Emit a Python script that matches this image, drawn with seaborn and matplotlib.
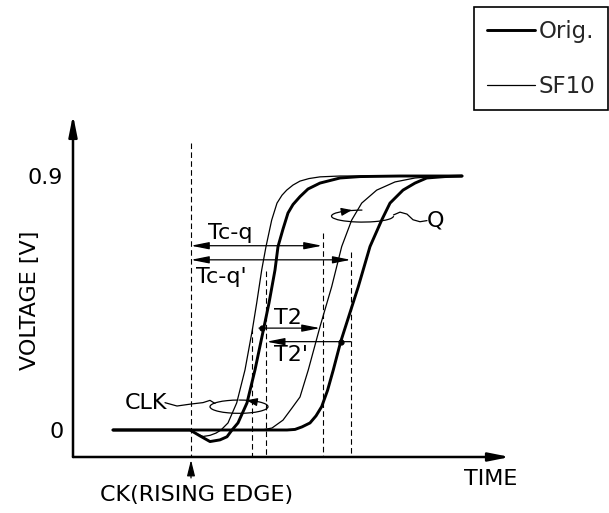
import numpy as np
import pandas as pd
import matplotlib.pyplot as plt
from matplotlib.patches import Arc
import seaborn as sns

# Waveforms (time in arbitrary units, CK edge at t=0)
clk_orig_t = [-7.8, -0.1, 0.9, 1.9, 2.9, 3.6, 4.1, 4.7, 5.6, 6.4, 7.3, 7.8, 8.4, 8.7,
              9.2, 9.7, 10.2, 10.9, 11.7, 12.9, 14.9, 16.9, 20.9, 27.1]
clk_orig_v = [0, 0, -0.021, -0.041, -0.035, -0.024, 0, 0.025, 0.096, 0.213, 0.365, 0.450,
              0.567, 0.650, 0.712, 0.769, 0.799, 0.827, 0.854, 0.875, 0.893, 0.898, 0.9, 0.9]

clk_sf10_t = [-7.8, -0.1, 0.6, 1.2, 1.9, 2.5, 3.0, 3.7, 4.57, 5.4, 6.13, 6.57, 7.07, 7.5,
              8.07, 8.6, 9.1, 9.57, 10.2, 10.9, 11.8, 12.9, 14.9, 27.1]
clk_sf10_v = [0, 0, -0.014, -0.023, -0.019, -0.011, 0, 0.025, 0.096, 0.213, 0.354, 0.450,
              0.567, 0.650, 0.744, 0.804, 0.832, 0.850, 0.868, 0.882, 0.891, 0.897, 0.9, 0.9]

q_orig_t = [-7.8, 9.6, 10.4, 11.1, 11.9, 12.5, 13.07, 13.65, 14.23, 14.97, 16.73, 17.9,
            19.07, 19.9, 21.2, 22.4, 23.57, 25.4, 27.1]
q_orig_v = [0, 0, 0.002, 0.011, 0.025, 0.050, 0.083, 0.140, 0.213, 0.313, 0.508, 0.650,
            0.744, 0.804, 0.850, 0.875, 0.893, 0.898, 0.9]

q_sf10_t = [-7.8, 7.1, 8.1, 9.2, 10.1, 10.9, 11.73, 12.9, 14.07, 15.07, 16.07, 17.07,
            18.57, 20.4, 22.4, 24.2, 27.1]
q_sf10_v = [0, 0, 0.007, 0.035, 0.078, 0.117, 0.213, 0.366, 0.508, 0.650, 0.744, 0.804,
            0.850, 0.879, 0.893, 0.898, 0.9]

# Vertical dashed markers: time, top voltage
mark_t = [0.0, 6.07, 7.47, 13.17, 15.97]
mark_top = [1.017, 0.361, 0.563, 0.698, 0.632]

ytick_vals = [0, 0.9]
ytick_labels = ["0", "0.9"]

sns.set_theme(style="white")
plt.rcParams["font.family"] = ["DejaVu Sans"]

rows = []
for name, variant, ts, vs in [("CLK", "Orig.", clk_orig_t, clk_orig_v),
                              ("CLK", "SF10", clk_sf10_t, clk_sf10_v),
                              ("Q", "Orig.", q_orig_t, q_orig_v),
                              ("Q", "SF10", q_sf10_t, q_sf10_v)]:
    for t, v in zip(ts, vs):
        rows.append({"curve": name + variant, "variant": variant, "time": t, "voltage": v})
df = pd.DataFrame(rows)

fig = plt.figure(figsize=(6.09, 5.13), dpi=100)
ax = fig.add_axes([73 / 609, 56 / 513, 437 / 609, 337 / 513])
ax.set_xlim(-11.8, 31.9)
ax.set_ylim(-0.0957, 1.0985)

sns.lineplot(data=df, x="time", y="voltage", units="curve", estimator=None,
             size="variant", sizes={"Orig.": 2.1, "SF10": 0.9}, size_order=["Orig.", "SF10"],
             color="black", sort=False, ax=ax, legend=True)

for s in ax.spines.values():
    s.set_visible(False)
ax.set_xlabel("")
ax.set_ylabel("")
ax.set_xticks([])
ax.set_yticks(ytick_vals)
ax.set_yticklabels(ytick_labels)
ax.tick_params(axis="y", length=0, pad=7, labelsize=16, labelcolor="black")

# axes with arrowheads
axis_kw = dict(arrowstyle="-|>,head_length=0.9,head_width=0.18", lw=1.8,
               color="black", mutation_scale=14, shrinkA=0, shrinkB=0)
ax.annotate("", xy=(0, 1.015), xytext=(0, 0), xycoords="axes fraction", arrowprops=axis_kw)
ax.annotate("", xy=(1, 0), xytext=(0, 0), xycoords="axes fraction", arrowprops=axis_kw)

# dashed time markers
for t, top in zip(mark_t, mark_top):
    ax.plot([t, t], [top, -0.0957], color="black", lw=0.8, dashes=(5, 3), clip_on=False)

# CK rising edge arrow below the axis
ax.annotate("", xy=(0, -0.106), xytext=(0, -0.170),
            arrowprops=dict(arrowstyle="-|>,head_length=0.8,head_width=0.2", lw=0.9,
                            color="black", mutation_scale=12, shrinkA=0, shrinkB=0),
            annotation_clip=False)

arrow_kw = dict(arrowstyle="<|-|>,head_length=0.9,head_width=0.18", lw=0.9,
                color="black", mutation_scale=12, shrinkA=0, shrinkB=0)
one_kw = dict(arrow_kw, arrowstyle="-|>,head_length=0.9,head_width=0.18")
loop_kw = dict(arrowstyle="-|>,head_length=0.8,head_width=0.3", lw=0.9,
               color="black", mutation_scale=8, shrinkA=0, shrinkB=0)

# Tc-q and Tc-q'
ax.annotate("", xy=(13.1, 0.653), xytext=(0.0, 0.653), arrowprops=arrow_kw)
ax.annotate("", xy=(15.97, 0.603), xytext=(0.0, 0.603), arrowprops=arrow_kw)
# T2 and T2'
ax.annotate("", xy=(12.9, 0.361), xytext=(6.8, 0.361), arrowprops=one_kw)
ax.plot([7.13], [0.361], "o", color="black", ms=3.5)
ax.annotate("", xy=(7.57, 0.313), xytext=(15.97, 0.313), arrowprops=one_kw)
ax.plot([14.97], [0.313], "o", color="black", ms=3.5)

txt = dict(color="black", fontsize=16, ha="center", va="center")
ax.text(3.9, 0.698, "Tc-q", **txt)
ax.text(3.05, 0.542, "Tc-q'", **txt)
ax.text(9.65, 0.397, "T2", **txt)
ax.text(10.05, 0.266, "T2'", **txt)
ax.text(-4.5, 0.0957, "CLK", **txt)
ax.text(24.4, 0.741, "Q", **txt)
ax.text(30.0, -0.174, "TIME", **txt)
ax.text(0.55, -0.232, "CK(RISING EDGE)", **txt)
ax.text(-16.1, 0.461, "VOLTAGE [V]", rotation=90, **txt)

# CLK lasso
ax.add_patch(Arc((4.8, 0.0826), 5.8, 0.047, theta1=155, theta2=75, lw=0.9, color="black"))
end = (4.8 + 2.9 * np.cos(np.radians(75)), 0.0826 + 0.0235 * np.sin(np.radians(75)))
ax.annotate("", xy=end, xytext=(end[0] + 0.5, end[1] - 0.003), arrowprops=loop_kw)
wave_clk_t = [-2.6, -1.4, 0.0, 1.2, 1.9, 2.4]
wave_clk_v = [0.0968, 0.085, 0.092, 0.097, 0.105, 0.094]
ax.plot(wave_clk_t, wave_clk_v, color="black", lw=0.9)

# Q lasso
ax.add_patch(Arc((17.15, 0.758), 6.2, 0.0425, theta1=120, theta2=360, lw=0.9, color="black"))
qend = (17.15 + 3.1 * np.cos(np.radians(120)), 0.758 + 0.02125 * np.sin(np.radians(120)))
ax.annotate("", xy=(qend[0] + 0.5, qend[1] + 0.003), xytext=qend, arrowprops=loop_kw)
wave_q_t = [20.25, 20.9, 21.6, 22.2, 22.9, 23.6]
wave_q_v = [0.762, 0.772, 0.765, 0.745, 0.738, 0.742]
ax.plot(wave_q_t, wave_q_v, color="black", lw=0.9)

sns.move_legend(ax, "upper right", bbox_to_anchor=(608 / 609, 1 - 7 / 513),
                bbox_transform=fig.transFigure, title=None, frameon=True, fancybox=False,
                edgecolor="black", framealpha=1, fontsize=16.5, handlelength=2.1,
                handletextpad=0.15, labelspacing=1.4, borderpad=0.55, borderaxespad=0)
leg = ax.get_legend()
leg.get_frame().set_linewidth(1.2)
for h in leg.legend_handles:
    h.set_color("black")

fig.savefig("out.png", dpi=100)
